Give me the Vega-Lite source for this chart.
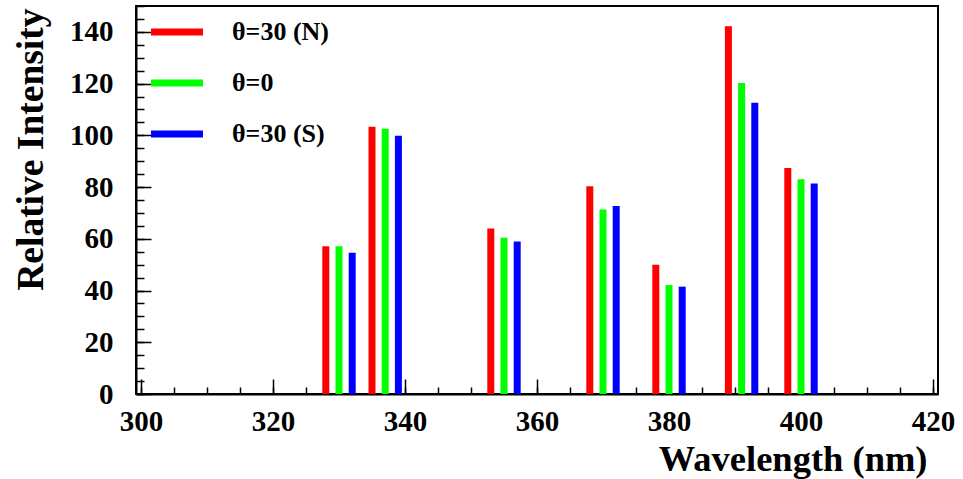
{
  "$schema": "https://vega.github.io/schema/vega-lite/v6.json",
  "width": 802,
  "height": 388,
  "autosize": "none",
  "padding": {"left": 136, "top": 6, "right": 25, "bottom": 85},
  "background": "white",
  "config": {
    "view": {"stroke": "black", "strokeWidth": 2},
    "font": "Liberation Serif",
    "axis": {
      "labelFont": "Liberation Serif",
      "labelFontWeight": "bold",
      "labelColor": "black",
      "titleFont": "Liberation Serif",
      "titleFontWeight": "bold",
      "titleColor": "black",
      "domainColor": "black",
      "domainWidth": 2,
      "tickColor": "black",
      "tickWidth": 1.5,
      "grid": false
    }
  },
  "data": {
    "values": [
      {"wl": 328, "intensity": 57.1, "series": "θ=30 (N)"},
      {"wl": 330, "intensity": 57.1, "series": "θ=0"},
      {"wl": 332, "intensity": 54.6, "series": "θ=30 (S)"},
      {"wl": 335, "intensity": 103.3, "series": "θ=30 (N)"},
      {"wl": 337, "intensity": 102.5, "series": "θ=0"},
      {"wl": 339, "intensity": 99.8, "series": "θ=30 (S)"},
      {"wl": 353, "intensity": 64.0, "series": "θ=30 (N)"},
      {"wl": 355, "intensity": 60.4, "series": "θ=0"},
      {"wl": 357, "intensity": 59.0, "series": "θ=30 (S)"},
      {"wl": 368, "intensity": 80.3, "series": "θ=30 (N)"},
      {"wl": 370, "intensity": 71.3, "series": "θ=0"},
      {"wl": 372, "intensity": 72.7, "series": "θ=30 (S)"},
      {"wl": 378, "intensity": 50.0, "series": "θ=30 (N)"},
      {"wl": 380, "intensity": 42.1, "series": "θ=0"},
      {"wl": 382, "intensity": 41.5, "series": "θ=30 (S)"},
      {"wl": 389, "intensity": 142.2, "series": "θ=30 (N)"},
      {"wl": 391, "intensity": 120.2, "series": "θ=0"},
      {"wl": 393, "intensity": 112.6, "series": "θ=30 (S)"},
      {"wl": 398, "intensity": 87.4, "series": "θ=30 (N)"},
      {"wl": 400, "intensity": 83.0, "series": "θ=0"},
      {"wl": 402, "intensity": 81.4, "series": "θ=30 (S)"}
    ]
  },
  "resolve": {"axis": {"x": "independent", "y": "independent"}},
  "layer": [
    {
      "mark": {"type": "bar", "size": 7},
      "encoding": {
        "x": {
          "field": "wl", "type": "quantitative",
          "scale": {"domain": [300, 420], "nice": false, "zero": false},
          "axis": {
            "orient": "bottom",
            "values": [300, 320, 340, 360, 380, 400, 420],
            "tickSize": -15,
            "labelFontSize": 29,
            "labelPadding": 28,
            "labelFlush": false,
            "title": "Wavelength (nm)",
            "titleFontSize": 36.5,
            "titleAnchor": "end",
            "titleAlign": "right",
            "titleBaseline": "alphabetic",
            "titleX": 791,
            "titleY": 76
          }
        },
        "y": {
          "field": "intensity", "type": "quantitative",
          "scale": {"domain": [0, 150], "nice": false},
          "axis": {
            "orient": "left",
            "values": [0, 20, 40, 60, 80, 100, 120, 140],
            "tickSize": -15,
            "labelFontSize": 29,
            "labelPadding": 38,
            "labelFlush": false,
            "labelBaseline": "middle",
            "title": "Relative Intensity",
            "titleFontSize": 37.5,
            "titleAnchor": "end",
            "titleAlign": "right",
            "titleAngle": -90,
            "titleBaseline": "alphabetic",
            "titleX": -94,
            "titleY": 2
          }
        },
        "color": {
          "field": "series", "type": "nominal",
          "scale": {"domain": ["θ=30 (N)", "θ=0", "θ=30 (S)"], "range": ["#ff0000", "#00ff00", "#0000ff"]},
          "legend": {
            "title": null,
            "orient": "none",
            "legendX": 15,
            "legendY": 0,
            "symbolType": "M-1,-0.13H1V0.13H-1Z",
            "symbolSize": 2704,
            "symbolStrokeWidth": 0,
            "labelFont": "Liberation Serif",
            "labelFontSize": 26,
            "labelFontWeight": "bold",
            "labelColor": "black",
            "labelOffset": 29,
            "rowPadding": 12,
            "padding": 0
          }
        }
      }
    },
    {
      "mark": {"type": "bar", "size": 7, "opacity": 0},
      "encoding": {
        "x": {
          "field": "wl", "type": "quantitative",
          "axis": {
            "orient": "bottom",
            "values": [300, 305, 310, 315, 320, 325, 330, 335, 340, 345, 350, 355, 360, 365, 370, 375, 380, 385, 390, 395, 400, 405, 410, 415, 420],
            "tickSize": -7,
            "labels": false,
            "domain": false,
            "title": null
          }
        },
        "y": {
          "field": "intensity", "type": "quantitative",
          "axis": {
            "orient": "left",
            "values": [0, 5, 10, 15, 20, 25, 30, 35, 40, 45, 50, 55, 60, 65, 70, 75, 80, 85, 90, 95, 100, 105, 110, 115, 120, 125, 130, 135, 140, 145, 150],
            "tickSize": -8,
            "labels": false,
            "domain": false,
            "title": null
          }
        }
      }
    }
  ]
}
